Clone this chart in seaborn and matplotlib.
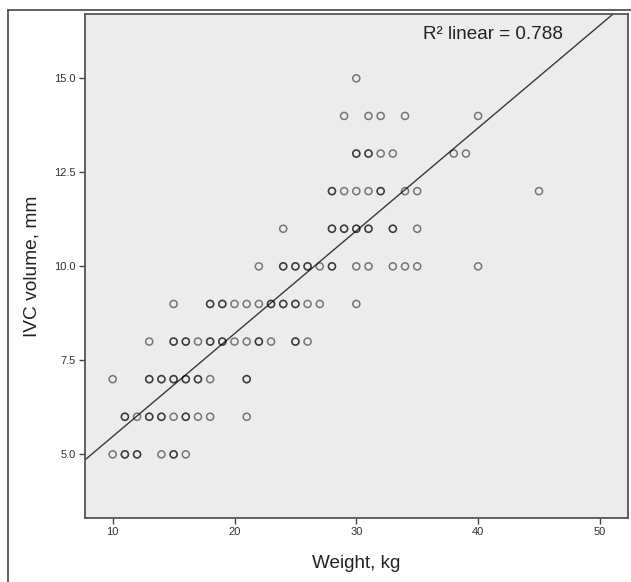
import numpy as np
import pandas as pd
import seaborn as sns
import matplotlib
matplotlib.use("Agg")
import matplotlib.pyplot as plt
from matplotlib.lines import Line2D

# Data (weight kg, IVC volume mm); repeated entries = overlapping points
weight_15 = [30]
weight_14 = [29, 31, 32, 34, 40]
weight_13 = [30, 30, 31, 31, 32, 33, 38, 39]
weight_12 = [28, 28, 29, 30, 31, 32, 32, 34, 35, 45]
weight_11 = [24, 28, 28, 29, 29, 30, 30, 31, 31, 33, 33, 35]
weight_10 = [22, 24, 24, 25, 25, 26, 26, 27, 28, 28, 30, 31, 33, 34, 35, 40]
weight_9 = [15, 18, 18, 19, 19, 20, 21, 22, 23, 23, 24, 24, 25, 25, 26, 27, 30]
weight_8 = [13, 15, 15, 16, 16, 17, 18, 18, 19, 19, 20, 21, 22, 22, 23, 25, 25, 26]
weight_7 = [10, 13, 13, 14, 14, 15, 15, 16, 16, 17, 17, 18, 21, 21]
weight_6 = [11, 11, 12, 13, 13, 14, 14, 15, 16, 16, 17, 18, 21]
weight_5 = [10, 11, 11, 12, 12, 14, 15, 15, 16]

ivc_levels = [15, 14, 13, 12, 11, 10, 9, 8, 7, 6, 5]
weights_by_level = [weight_15, weight_14, weight_13, weight_12, weight_11, weight_10,
                    weight_9, weight_8, weight_7, weight_6, weight_5]

x_ticks = [10, 20, 30, 40, 50]
y_ticks = [5.0, 7.5, 10.0, 12.5, 15.0]
r2_label = "R\u00b2 linear = 0.788"

rows = []
for lvl, ws in zip(ivc_levels, weights_by_level):
    for w in ws:
        rows.append((w, lvl))
df = pd.DataFrame(rows, columns=["weight", "ivc"])

sns.set_theme(style="white")
plt.rcParams["font.family"] = ["Liberation Sans", "DejaVu Sans"]

fig = plt.figure(figsize=(6.31, 5.82), dpi=100)
ax = fig.add_axes([0.1344, 0.1101, 0.9957 - 0.1344, 0.9759 - 0.1101])
ax.set_facecolor("#ececec")
ax.set_xlim(7.71, 52.33)
ax.set_ylim(3.31, 16.71)

sns.regplot(data=df, x="weight", y="ivc", ax=ax, ci=None, truncate=False,
            scatter_kws=dict(facecolors="none", edgecolors="black", alpha=0.5,
                             s=26, linewidths=1.1, zorder=3),
            line_kws=dict(color="#383838", lw=1.0, zorder=2))

ax.set_xlim(7.71, 52.33)
ax.set_ylim(3.31, 16.71)
ax.set_xticks(x_ticks)
ax.set_xticklabels([str(t) for t in x_ticks])
ax.set_yticks(y_ticks)
ax.set_yticklabels([f"{t:.1f}" for t in y_ticks])
ax.tick_params(axis="both", direction="out", length=4.5, width=1.0, color="#444444",
               labelsize=8, labelcolor="#333333", pad=2, bottom=True, left=True)

for sp in ax.spines.values():
    sp.set_color("#555555")
    sp.set_linewidth(1.3)
    sp.set_visible(True)

ax.set_xlabel("Weight, kg", fontsize=13.6, color="#222222", labelpad=13)
ax.set_ylabel("IVC volume, mm", fontsize=13.8, color="#222222", labelpad=10)

ax.text(0.880, 0.960, r2_label, transform=ax.transAxes, ha="right", va="center",
        fontsize=13.6, color="#222222")

# outer figure border (left and top)
fig.add_artist(Line2D([8 / 631, 8 / 631], [0, 1 - 10 / 582], transform=fig.transFigure,
                      color="#444444", lw=1.2))
fig.add_artist(Line2D([8 / 631, 1], [1 - 10 / 582, 1 - 10 / 582], transform=fig.transFigure,
                      color="#444444", lw=1.2))

fig.savefig("out.png", dpi=100, facecolor="white")
